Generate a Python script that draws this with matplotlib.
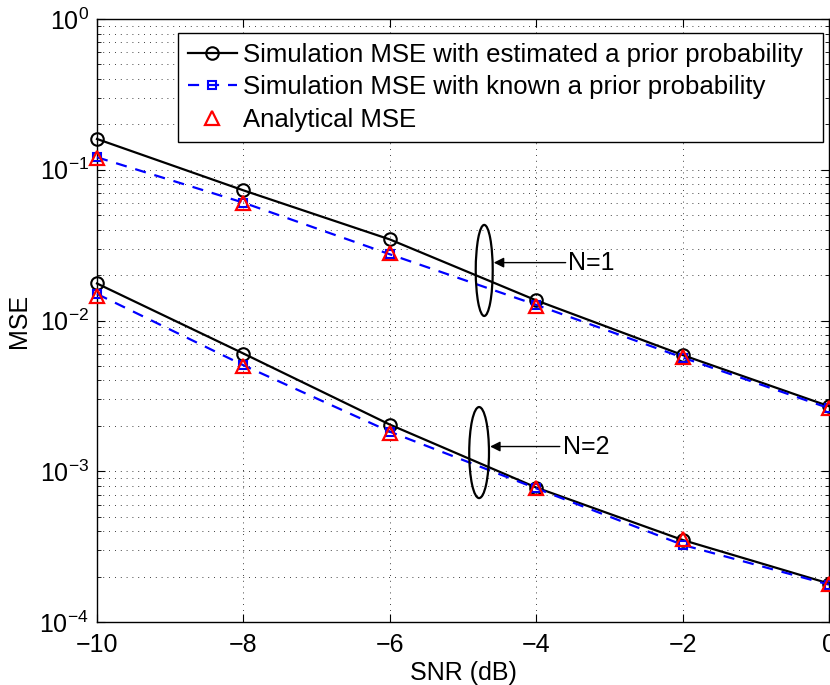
import numpy as np
import matplotlib
matplotlib.use('Agg')
import matplotlib.pyplot as plt
from matplotlib.patches import Ellipse
from matplotlib.ticker import LogLocator, NullFormatter

plt.rcParams['font.family'] = ['Liberation Sans', 'DejaVu Sans']
plt.rcParams['mathtext.default'] = 'regular'
plt.rcParams['font.size'] = 18

# data
snr = [-10, -8, -6, -4, -2, 0]

# N = 1
n1_est = [0.160, 0.073, 0.0345, 0.0136, 0.00590, 0.00270]
n1_known = [0.121, 0.0605, 0.0275, 0.0127, 0.00568, 0.00262]
n1_anal = [0.120, 0.0600, 0.0280, 0.0125, 0.00570, 0.00262]

# N = 2
n2_est = [0.0176, 0.00604, 0.00204, 0.00078, 0.000350, 0.000180]
n2_known = [0.0150, 0.00505, 0.00183, 0.00077, 0.000325, 0.000177]
n2_anal = [0.0146, 0.00500, 0.00180, 0.00078, 0.000355, 0.000178]

legend_labels = ['Simulation MSE with estimated a prior probability',
                 'Simulation MSE with known a prior probability',
                 'Analytical MSE']

fig = plt.figure(figsize=(8.3, 6.85), dpi=100)
ax = fig.add_axes([97/830, 63/685, 732/830, 603/685])

for est, known, anal, first in [(n1_est, n1_known, n1_anal, True),
                                (n2_est, n2_known, n2_anal, False)]:
    ax.semilogy(snr, est, '-', color='k', lw=1.6, marker='o', ms=9,
                mfc='none', mew=1.5, clip_on=False,
                label=legend_labels[0] if first else None, zorder=3)
    ax.semilogy(snr, known, '--', color='#0000ff', lw=1.6, marker='s', ms=6,
                mfc='none', mew=1.5, dashes=(5, 4), clip_on=False,
                label=legend_labels[1] if first else None, zorder=4)
    ax.semilogy(snr, anal, linestyle='none', color='r', marker='^', ms=10,
                mfc='none', mew=1.6, clip_on=False,
                label=legend_labels[2] if first else None, zorder=5)

ax.set_xlim(-10, 0)
ax.set_ylim(1e-4, 1e0)
ax.set_xticks(snr)
ax.set_xticklabels(['\u221210', '\u22128', '\u22126', '\u22124', '\u22122', '0'])
ax.yaxis.set_major_locator(LogLocator(base=10, numticks=10))
ax.yaxis.set_minor_locator(LogLocator(base=10, subs=np.arange(2, 10), numticks=20))
ax.yaxis.set_minor_formatter(NullFormatter())

ax.tick_params(which='both', direction='in', top=True, right=True)
ax.tick_params(which='major', length=6, labelsize=18)
ax.tick_params(axis='x', which='major', pad=8)
ax.tick_params(axis='y', which='major', pad=6)
ax.tick_params(which='minor', length=3)
for s in ax.spines.values():
    s.set_linewidth(1.0)

ax.grid(True, which='major', linestyle=(0, (1, 6)), color='k', lw=0.6)
ax.grid(True, which='minor', axis='y', linestyle=(0, (1, 6)), color='k', lw=0.6)
ax.set_axisbelow(True)

ax.set_xlabel('SNR (dB)', fontsize=18, labelpad=3)
ax.set_ylabel('MSE', fontsize=18, labelpad=6)

leg = ax.legend(loc='upper left', bbox_to_anchor=(0.1107, 0.9767, 0.8811, 0),
                mode='expand', borderaxespad=0, fancybox=False, framealpha=1,
                edgecolor='k', numpoints=1, handlelength=1.9,
                handletextpad=0.25, borderpad=0.39, labelspacing=0.32,
                fontsize=18.5)
leg.get_frame().set_linewidth(1.0)

# ellipses with labels
ax.add_patch(Ellipse((0.529, 0.583), 0.0232, 0.151, transform=ax.transAxes,
                     fill=False, ec='k', lw=1.6, zorder=6))
ax.annotate('N=1', xy=(0.542, 0.596), xytext=(0.644, 0.596),
            xycoords='axes fraction', textcoords='axes fraction',
            va='center', ha='left', fontsize=18,
            arrowprops=dict(arrowstyle='-|>', color='k', lw=1.0,
                            shrinkA=0, shrinkB=0, mutation_scale=15))
ax.add_patch(Ellipse((0.522, 0.281), 0.027, 0.151, transform=ax.transAxes,
                     fill=False, ec='k', lw=1.6, zorder=6))
ax.annotate('N=2', xy=(0.537, 0.291), xytext=(0.636, 0.291),
            xycoords='axes fraction', textcoords='axes fraction',
            va='center', ha='left', fontsize=18,
            arrowprops=dict(arrowstyle='-|>', color='k', lw=1.0,
                            shrinkA=0, shrinkB=0, mutation_scale=15))

fig.savefig('out.png', dpi=100)
